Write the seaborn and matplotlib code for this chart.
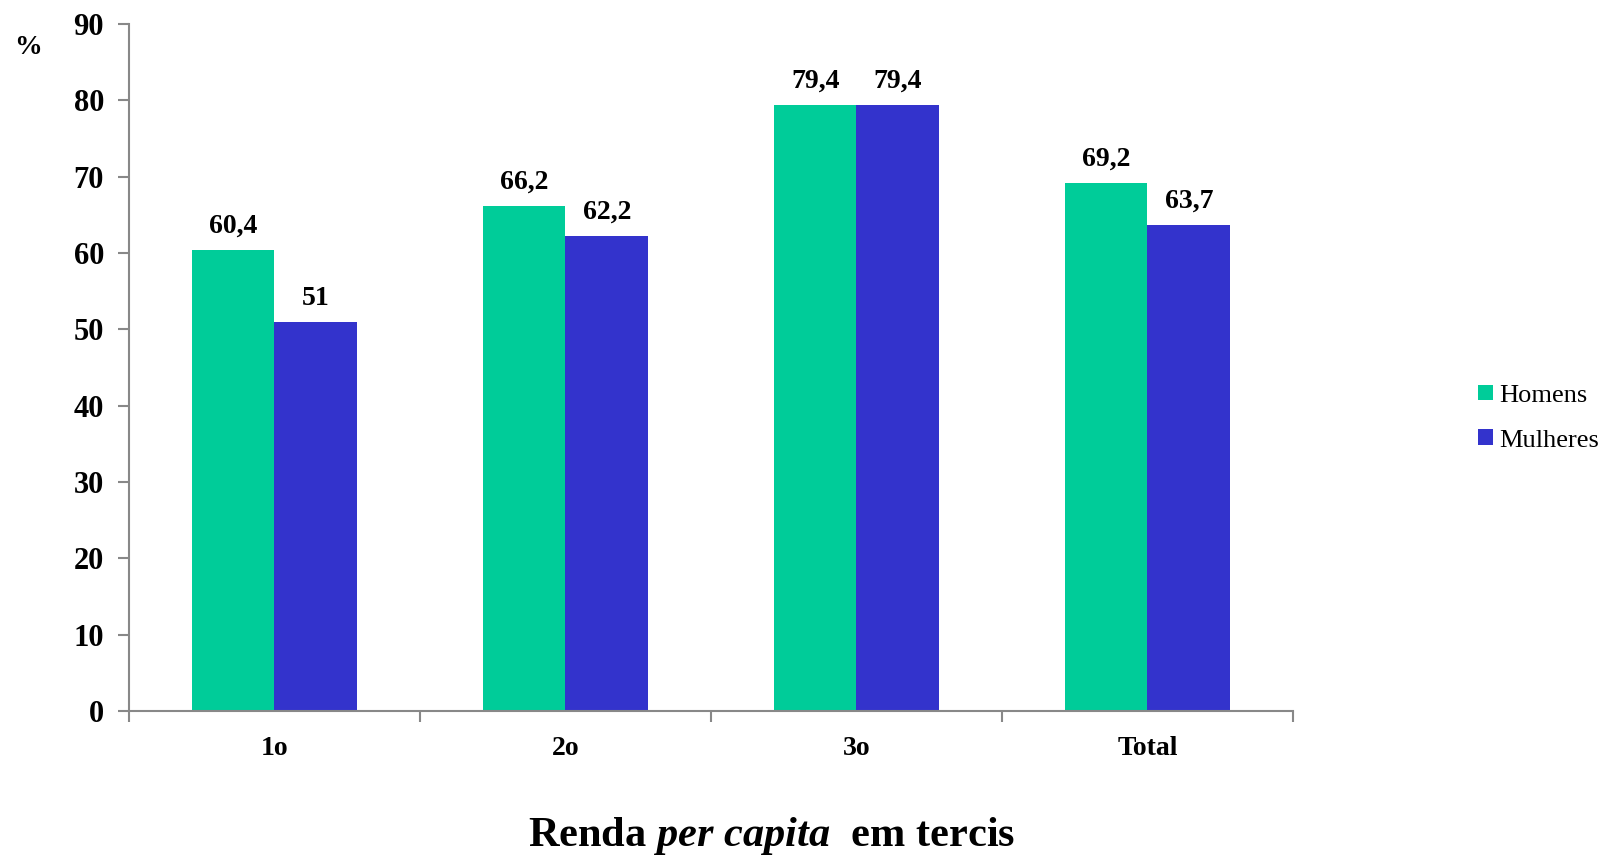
import pandas as pd
import numpy as np
import matplotlib
matplotlib.use("Agg")
import matplotlib.pyplot as plt
import seaborn as sns
from matplotlib.ticker import FixedLocator

categorias = ["1o", "2o", "3o", "Total"]
homens = [60.4, 66.2, 79.4, 69.2]
mulheres = [51.0, 62.2, 79.4, 63.7]
series = ["Homens", "Mulheres"]
cores = ["#00CC99", "#3333CC"]

df = pd.DataFrame({
    "cat": categorias * 2,
    "valor": homens + mulheres,
    "sexo": [series[0]] * 4 + [series[1]] * 4,
})

sns.set_style("white")
plt.rcParams["font.family"] = ["Liberation Serif", "DejaVu Serif"]
plt.rcParams["text.color"] = "black"
plt.rcParams["mathtext.fontset"] = "custom"
plt.rcParams["mathtext.rm"] = "Liberation Serif:bold"
plt.rcParams["mathtext.it"] = "Liberation Serif:italic:bold"
plt.rcParams["mathtext.bf"] = "Liberation Serif:bold"

fig = plt.figure(figsize=(16, 8.55), dpi=100)
ax = fig.add_axes([0.0806, 0.1684, 0.7275, 0.8036])

sns.barplot(data=df, x="cat", y="valor", hue="sexo", palette=cores,
            width=0.568, gap=0, saturation=1, ax=ax, linewidth=0)


def fmt(v):
    s = f"{v:.1f}".replace(".", ",")
    return s[:-2] if s.endswith(",0") else s


for cont in ax.containers:
    ax.bar_label(cont, labels=[fmt(b.get_height()) for b in cont],
                 padding=8, fontsize=20, fontweight="bold", color="black")

ax.set_ylim(0, 90)
ax.set_xlim(-0.5, 3.5)
ax.set_yticks(np.arange(0, 91, 10))
ax.tick_params(axis="y", labelsize=22, length=8, width=1.5, color="#888888",
               labelcolor="black", direction="out", left=True, pad=10)
for lbl in ax.get_yticklabels():
    lbl.set_fontweight("bold")
ax.tick_params(axis="x", which="major", labelsize=20, length=0, pad=18,
               labelcolor="black")
for lbl in ax.get_xticklabels():
    lbl.set_fontweight("bold")
ax.xaxis.set_minor_locator(FixedLocator(np.arange(-0.5, 4, 1)))
ax.tick_params(axis="x", which="minor", length=8, width=1.5,
               color="#888888", direction="out", bottom=True)

for s in ["top", "right"]:
    ax.spines[s].set_visible(False)
for s in ["left", "bottom"]:
    ax.spines[s].set_color("#888888")
    ax.spines[s].set_linewidth(1.5)

ax.set_ylabel("")
ax.set_xlabel("")
fig.text(0.0175, 0.945, "%", fontsize=20, fontweight="bold", ha="center", va="center")
fig.text(0.482, 0.022, "Renda $\\it{per\\ capita}$  em tercis", fontsize=30.5,
         fontweight="bold", ha="center", va="center")

ax.legend(title=None, frameon=False, fontsize=19, loc="center left",
          bbox_to_anchor=(0.924, 0.511), bbox_transform=fig.transFigure,
          handlelength=0.55, handleheight=0.55, handletextpad=0.25,
          labelspacing=0.85, borderaxespad=0, borderpad=0)

fig.savefig("out.png", dpi=100)
